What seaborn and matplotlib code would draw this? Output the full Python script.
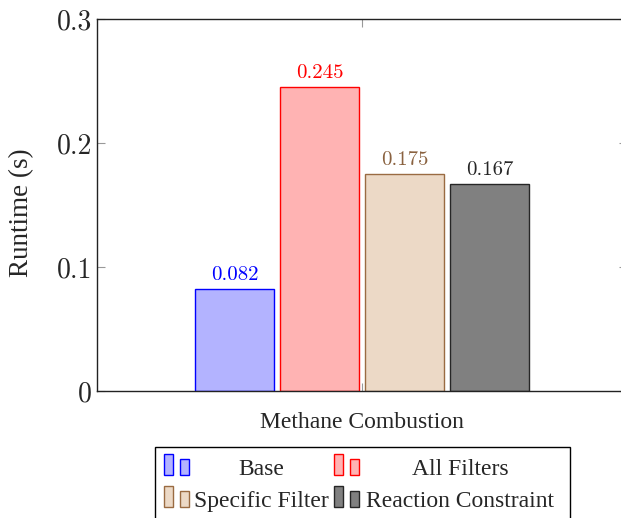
import pandas as pd
import seaborn as sns
import matplotlib.pyplot as plt
import matplotlib.transforms as mtransforms
from matplotlib.patches import Rectangle

# Runtime of each method on the methane combustion case
case = ['Methane Combustion']
methods = ['Base', 'All Filters', 'Specific Filter', 'Reaction Constraint']
runtime = [0.082, 0.245, 0.175, 0.167]

fills = ['#b3b3ff', '#ffb3b3', '#ecd9c6', '#808080']
edges = ['#0000ff', '#ff0000', '#9a6b42', '#262626']
label_colors = ['#0000ff', '#ff0000', '#8a6240', '#262626']

df = pd.DataFrame({'Case': case * len(methods), 'Method': methods, 'Runtime': runtime})

sns.set_style('white')
plt.rcParams['font.family'] = ['Liberation Serif', 'DejaVu Serif']
num_font = 'cmr10'   # numbers are typeset in Computer Modern

W, H = 621, 518
fig = plt.figure(figsize=(W / 100, H / 100), dpi=100)
ax = fig.add_axes([97 / W, (H - 391) / H, 530 / W, 372 / H])

sns.barplot(data=df, x='Case', y='Runtime', hue='Method', hue_order=methods,
            palette=fills, saturation=1, width=0.8, gap=0.07, legend=False, ax=ax)

for cont, ec, lc in zip(ax.containers, edges, label_colors):
    for bar in cont:
        bar.set_edgecolor(ec)
        bar.set_linewidth(1.0)
    ax.bar_label(cont, fmt='%.3f', padding=3.5, color=lc, fontsize=15, fontfamily=num_font)

ax.set_ylim(0, 0.3)
ax.set_xlim(-0.624, 0.624)
ax.set_yticks([0, 0.1, 0.2, 0.3])
ax.set_yticklabels(['0', '0.1', '0.2', '0.3'], fontfamily=num_font, fontsize=20)
ax.set_xlabel('')
ax.set_ylabel('Runtime (s)', fontsize=19.5)
ax.yaxis.set_label_coords(-0.118, 0.48)
ax.tick_params(axis='both', direction='in', length=6, color='#999999',
               top=True, right=True, bottom=True, left=True)
ax.tick_params(axis='x', labelsize=17, pad=15)
for sp in ax.spines.values():
    sp.set_visible(True)
    sp.set_color('#222222')
    sp.set_linewidth(1.0)

# pgfplots-style legend: two small bars per entry, labels centred in their column
px = mtransforms.Affine2D().scale(1 / W, -1 / H).translate(0, 1) + fig.transFigure
fig.patches.append(Rectangle((155, 447), 415, 80, transform=px, facecolor='white',
                             edgecolor='black', lw=1.0))
icon_x = [164, 334]
text_center = [261.5, 460]
row_y = [475, 507]
for i, (name, fc, ec) in enumerate(zip(methods, fills, edges)):
    row, col = divmod(i, 2)
    x0, yb = icon_x[col], row_y[row]
    fig.patches.append(Rectangle((x0, yb), 8.5, -21, transform=px, facecolor=fc, edgecolor=ec, lw=1.0))
    fig.patches.append(Rectangle((x0 + 16, yb), 8.5, -16, transform=px, facecolor=fc, edgecolor=ec, lw=1.0))
    fig.text(text_center[col], yb, name, transform=px, ha='center', va='baseline', fontsize=17)

fig.savefig('out.png', dpi=100)
